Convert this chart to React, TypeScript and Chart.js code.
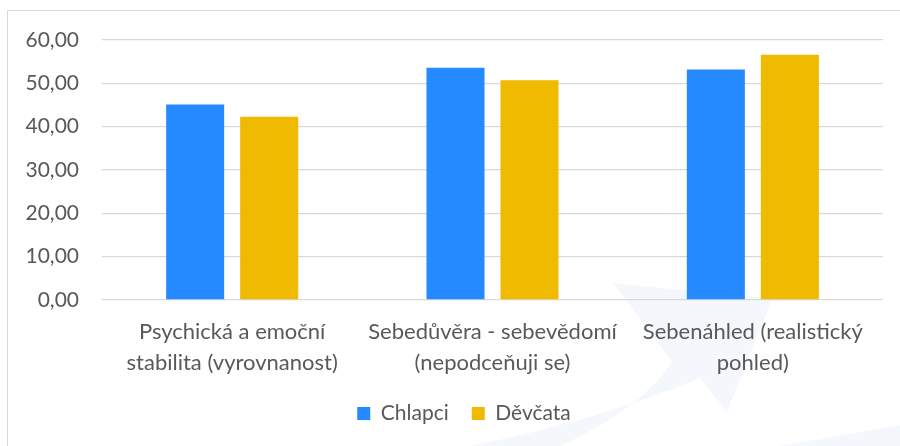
import React, { useEffect, useRef } from "react";
import { Chart, registerables } from "chart.js";

Chart.register(...registerables);

const categories: string[][] = [
  ["Psychická a emoční", "stabilita (vyrovnanost)"],
  ["Sebedůvěra - sebevědomí", "(nepodceňuji se)"],
  ["Sebenáhled (realistický", "pohled)"],
];
const seriesNames = ["Chlapci", "Děvčata"];
const chlapci = [45.1, 53.6, 53.2];
const devcata = [42.3, 50.7, 56.6];
const yMin = 0;
const yMax = 60;
const yStep = 10;

const FONT = "Lato";
const TEXT = "#595959";
const GRID = "#d9d9d9";

const watermark = {
  id: "watermark",
  beforeDraw(chart: any) {
    const { ctx, width, height } = chart;
    const sx = width / 900;
    const sy = height / 446;
    ctx.save();
    ctx.fillStyle = "rgba(236,241,249,0.6)";
    ctx.beginPath();
    ctx.moveTo(613 * sx, 283 * sy);
    ctx.lineTo(772 * sx, 299 * sy);
    ctx.lineTo(727 * sx, 412 * sy);
    ctx.lineTo(700 * sx, 378 * sy);
    ctx.quadraticCurveTo(600 * sx, 420 * sy, 470 * sx, 446 * sy);
    ctx.lineTo(560 * sx, 446 * sy);
    ctx.quadraticCurveTo(640 * sx, 410 * sy, 672 * sx, 362 * sy);
    ctx.closePath();
    ctx.fill();
    ctx.beginPath();
    ctx.moveTo(780 * sx, 446 * sy);
    ctx.lineTo(900 * sx, 425 * sy);
    ctx.lineTo(900 * sx, 446 * sy);
    ctx.closePath();
    ctx.fill();
    ctx.restore();
  },
};

// shift the legend box so it centres like the original (frame-centred)
const legendShift = {
  id: "legendShift",
  afterLayout(chart: any) {
    if (chart.legend) {
      chart.legend.left = 45;
    }
  },
};

export default function App() {
  const ref = useRef<HTMLCanvasElement | null>(null);

  useEffect(() => {
    if (!ref.current) return;
    const chart = new Chart(ref.current, {
      type: "bar",
      data: {
        labels: categories,
        datasets: [
          {
            label: seriesNames[0],
            data: chlapci,
            backgroundColor: "#2589FF",
            borderWidth: 0,
            categoryPercentage: 0.5686,
            barPercentage: 0.784,
          },
          {
            label: seriesNames[1],
            data: devcata,
            backgroundColor: "#EFBA00",
            borderWidth: 0,
            categoryPercentage: 0.5686,
            barPercentage: 0.784,
          },
        ],
      },
      options: {
        animation: false,
        responsive: true,
        maintainAspectRatio: false,
        layout: { padding: { top: 40, right: 17, bottom: 12, left: 0 } },
        plugins: {
          tooltip: { enabled: false },
          legend: {
            position: "bottom",
            labels: {
              boxWidth: 13,
              boxHeight: 13,
              padding: 23,
              color: TEXT,
              font: { family: FONT, size: 21 },
            },
          },
        },
        scales: {
          x: {
            grid: { display: false, drawTicks: false },
            border: { display: false },
            ticks: {
              color: TEXT,
              padding: 17,
              maxRotation: 0,
              autoSkip: false,
              font: { family: FONT, size: 22, lineHeight: 1.4 },
            },
            afterFit(scale: any) {
              scale.height = 80;
            },
          },
          y: {
            min: yMin,
            max: yMax,
            grid: { color: GRID, lineWidth: 1.3, drawTicks: false },
            border: { display: false },
            ticks: {
              stepSize: yStep,
              color: TEXT,
              padding: 23,
              font: { family: FONT, size: 21 },
              callback: (v: any) => Number(v).toFixed(2).replace(".", ","),
            },
            afterFit(scale: any) {
              scale.width = 102;
            },
          },
        },
      },
      plugins: [watermark, legendShift],
    });
    return () => chart.destroy();
  }, []);

  return (
    <div
      style={{
        position: "fixed",
        left: 0,
        top: 0,
        width: 900,
        height: 446,
        overflow: "hidden",
        background: "#ffffff",
      }}
    >
      <canvas ref={ref} style={{ position: "absolute", left: 0, top: 0 }} />
      <div
        style={{
          position: "absolute",
          left: 7,
          top: 10,
          width: 1000,
          height: 1000,
          border: `1.5px solid ${GRID}`,
          pointerEvents: "none",
        }}
      />
    </div>
  );
}
